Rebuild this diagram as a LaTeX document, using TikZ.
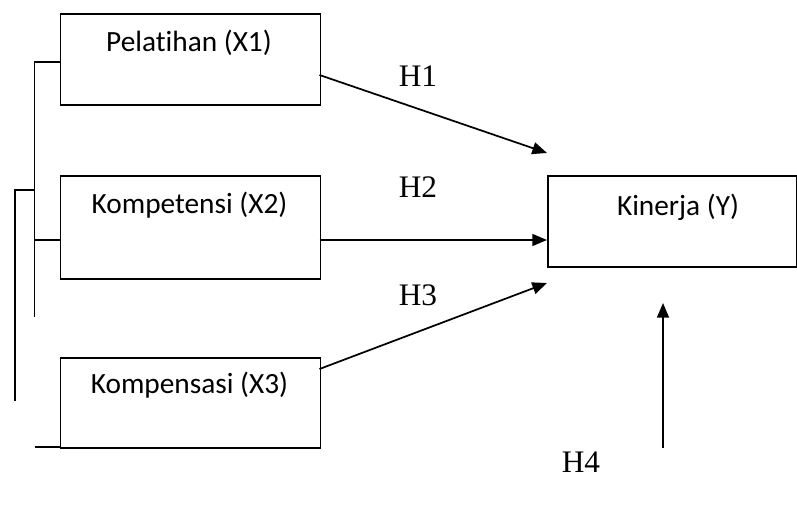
\documentclass[tikz,border=0pt]{standalone}
\usepackage{fontspec}
\setmainfont{Liberation Serif}
\newfontfamily\boxfont[Ligatures=NoCommon]{Carlito}
\usetikzlibrary{arrows.meta}
\begin{document}
\begin{tikzpicture}[x=0.75pt,y=-0.75pt,
  box/.style={draw,line width=1.3pt,inner sep=0pt,anchor=north west},
  boxtext/.style={font=\boxfont\fontsize{22}{24}\selectfont,inner sep=0pt},
  hyp/.style={font=\fontsize{23.5}{25}\selectfont,inner sep=0pt},
  arr/.style={line width=1.3pt,-{Triangle[length=11pt,width=9pt]}},
  ln/.style={line width=1.3pt}]
\useasboundingbox (0,0) rectangle (797,517);
% boxes
\node[box,minimum width=260*0.75pt,minimum height=91*0.75pt] (x1) at (59.5,13) {};
\node[box,minimum width=260*0.75pt,minimum height=103*0.75pt] (x2) at (59.5,175) {};
\node[box,minimum width=260*0.75pt,minimum height=90*0.75pt] (x3) at (59.5,357) {};
\node[box,minimum width=249*0.75pt,minimum height=91*0.75pt] (y) at (547,175) {};
% texts
\node[boxtext] (x1t) at (189,43) {Pelatihan (X1)};
\node[boxtext] (x2t) at (189.5,205) {Kompetensi (X2)};
\node[boxtext] (x3t) at (189.5,385) {Kompensasi (X3)};
\node[boxtext] (yt) at (678,207) {Kinerja (Y)};
\node[hyp] (h1) at (418,76) {H1};
\node[hyp] (h2) at (418,187) {H2};
\node[hyp] (h3) at (418,295) {H3};
\node[hyp] (h4) at (581,462) {H4};
% connector ends
\coordinate (a1s) at (319.5,75);
\coordinate (a1e) at (547,153);
\coordinate (a2s) at (319.5,240);
\coordinate (a2e) at (547,240);
\coordinate (a3s) at (319.5,369);
\coordinate (a3e) at (547,283);
\coordinate (a4s) at (663,448);
\coordinate (a4e) at (663,303);
\draw[arr] (a1s) -- (a1e);
\draw[arr] (a2s) -- (a2e);
\draw[arr] (a3s) -- (a3e);
\draw[arr] (a4s) -- (a4e);
% left bracket lines
\draw[ln] (59.5,62) -- (34.5,62) -- (34.5,317);
\draw[ln] (34.5,240) -- (59.5,240);
\draw[ln] (34.5,190) -- (15,190) -- (15,401);
\draw[ln] (34.5,447) -- (59.5,447);
\end{tikzpicture}
\end{document}
